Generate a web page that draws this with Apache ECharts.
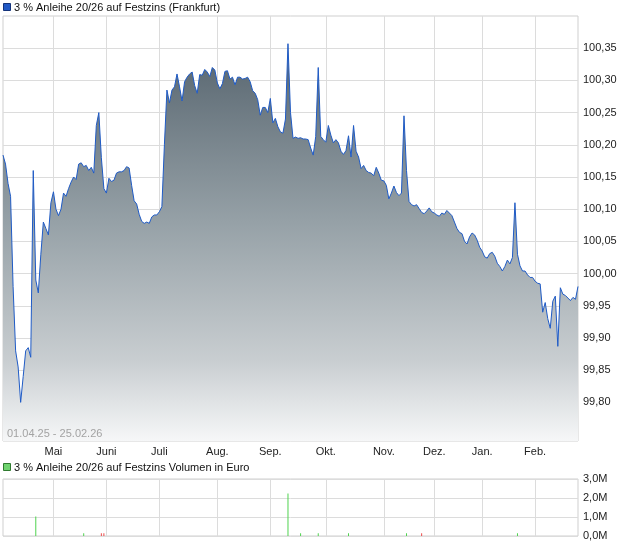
<!DOCTYPE html>
<html><head><meta charset="utf-8">
<script src="https://cdn.jsdelivr.net/npm/echarts@6/dist/echarts.min.js"></script>
<style>html,body{margin:0;padding:0;background:#fff}#c{width:620px;height:546px}</style>
</head><body><div id="c"></div>
<script>
// ---- data ----
const seriesName = '3 % Anleihe 20/26 auf Festzins (Frankfurt)';
const volumeName = '3 % Anleihe 20/26 auf Festzins Volumen in Euro';
const startDate = '2025-04-01';
const endDate = '2026-02-25';
const holidays = ['2025-04-18','2025-04-21','2025-05-01','2025-12-24','2025-12-25','2025-12-26','2025-12-31','2026-01-01'];
const monthLabels = ['Mai','Juni','Juli','Aug.','Sep.','Okt.','Nov.','Dez.','Jan.','Feb.'];
const priceTicks = [99.80,99.85,99.90,99.95,100.00,100.05,100.10,100.15,100.20,100.25,100.30,100.35];
const volumeTicks = [0, 1000000, 2000000, 3000000];

const price = [
 100.184,100.17,100.14,100.12,99.98,99.88,99.855,99.80,99.84,99.88,
 99.885,99.87,100.16,99.99,99.97,100.03,100.08,100.07,100.06,100.11,
 100.127,100.10,100.09,100.10,100.125,100.12,100.132,100.142,100.15,100.146,
 100.17,100.172,100.166,100.168,100.16,100.165,100.156,100.23,100.25,100.18,
 100.132,100.125,100.148,100.143,100.145,100.156,100.158,
 100.158,100.16,100.166,100.164,100.137,100.113,100.108,100.092,100.081,100.078,
 100.08,100.078,100.088,100.091,100.091,100.096,100.104,100.20,100.285,100.265,
 100.285,100.29,100.31,100.29,100.268,100.298,100.305,100.31,100.313,100.292,
 100.28,100.309,100.308,100.317,100.313,100.306,100.32,100.316,100.296,100.287,
 100.295,100.314,100.315,100.302,100.305,100.293,
 100.305,100.305,100.302,100.303,100.305,100.298,100.284,100.28,100.27,100.246,
 100.258,100.258,100.25,100.272,100.234,100.241,100.228,100.22,100.218,100.24,
 100.357,100.25,100.21,100.212,100.21,100.211,100.209,100.209,100.208,100.195,
 100.184,100.213,100.32,100.213,100.208,100.204,100.23,100.215,100.203,100.208,
 100.203,100.19,100.185,100.191,100.214,
 100.181,100.23,100.19,100.181,100.163,100.168,100.16,100.157,100.156,100.152,
 100.165,100.156,100.145,100.144,100.137,100.116,100.125,100.136,100.126,100.121,
 100.125,100.245,100.16,100.112,100.107,100.105,100.107,100.101,100.095,100.093,
 100.097,100.102,100.096,100.094,100.091,100.089,100.094,100.092,100.098,100.094,
 100.09,100.08,100.07,100.064,
 100.062,100.05,100.046,100.057,100.063,100.06,100.052,100.041,100.035,100.026,
 100.024,100.031,100.033,100.027,100.016,100.011,100.004,100.011,100.021,100.015,
 100.025,100.11,100.03,100.012,100.004,100.004,99.998,99.994,99.994,99.988,
 99.985,99.984,99.94,99.955,99.93,99.915,99.957,99.965,99.887,99.978,
 99.968,99.966,99.962,99.958,99.963,99.96,99.98
];

const volDates  = ['2025-04-22','2025-05-20','2025-05-29','2025-05-30','2025-09-10','2025-09-17','2025-09-26','2025-10-14','2025-11-14','2025-11-24','2026-01-22'];
const volValues = [1020000,150000,150000,150000,2240000,150000,150000,150000,150000,150000,150000];
const volUp     = [true,true,false,false,true,true,true,true,true,false,true];

// ---- trading-day calendar ----
function tradingDays(from, to, skip) {
  const out = [];
  const d = new Date(from + 'T00:00:00Z');
  const end = new Date(to + 'T00:00:00Z');
  while (d <= end) {
    const wd = d.getUTCDay();
    const s = d.toISOString().slice(0, 10);
    if (wd !== 0 && wd !== 6 && skip.indexOf(s) < 0) out.push(s);
    d.setUTCDate(d.getUTCDate() + 1);
  }
  return out;
}
const dates = tradingDays(startDate, endDate, holidays);
const monthStart = dates.map((d, i) => i > 0 && d.slice(5, 7) !== dates[i - 1].slice(5, 7));
const labelOf = {};
let mIdx = 0;
dates.forEach((d, i) => { if (monthStart[i]) labelOf[d] = monthLabels[mIdx++]; });
const fmtDate = s => s.slice(8, 10) + '.' + s.slice(5, 7) + '.' + s.slice(2, 4);

const volData = dates.map(d => {
  const k = volDates.indexOf(d);
  if (k < 0) return 0;
  return volUp[k] ? volValues[k] : { value: volValues[k], itemStyle: { color: '#ee4b4b' } };
});

// ---- chart ----
const FONT = '"Liberation Sans", Arial, sans-serif';
const GRIDC = '#dcdcdc';
const chart = echarts.init(document.getElementById('c'), null, { renderer: 'canvas' });
chart.setOption({
  animation: false,
  backgroundColor: '#fff',
  textStyle: { fontFamily: FONT },
  title: {
    text: fmtDate(dates[0]) + ' - ' + fmtDate(dates[dates.length - 1]),
    left: 7, top: 428, padding: 0,
    textStyle: { fontSize: 11, fontWeight: 'normal', color: '#a3a3a3', fontFamily: FONT }
  },
  graphic: [
    { type: 'rect', shape: { x: 3.5, y: 3.5, width: 7, height: 7 }, style: { fill: '#2159c5', stroke: '#14337a', lineWidth: 1 } },
    { type: 'text', style: { x: 14, y: 7.5, text: seriesName, font: '11px ' + FONT, fill: '#111', verticalAlign: 'middle' } },
    { type: 'rect', shape: { x: 3.5, y: 463.5, width: 7, height: 7 }, style: { fill: '#6fd36f', stroke: '#2f7a2f', lineWidth: 1 } },
    { type: 'text', style: { x: 14, y: 467.5, text: volumeName, font: '11px ' + FONT, fill: '#111', verticalAlign: 'middle' } }
  ],
  grid: [
    { left: 3, right: 42, top: 16, bottom: 105, show: true, borderColor: '#cfcfcf', borderWidth: 1, backgroundColor: '#fff' },
    { left: 3, right: 42, top: 479, bottom: 10, show: true, borderColor: '#cfcfcf', borderWidth: 1, backgroundColor: '#fff' }
  ],
  xAxis: [
    {
      type: 'category', gridIndex: 0, data: dates, boundaryGap: false,
      axisLine: { show: false }, axisTick: { show: false },
      axisLabel: { interval: i => monthStart[i], formatter: v => labelOf[v] || '', color: '#222', fontSize: 11, margin: 5, fontFamily: FONT },
      splitLine: { show: true, interval: i => monthStart[i], lineStyle: { color: GRIDC, width: 1 } }
    },
    {
      type: 'category', gridIndex: 1, data: dates, boundaryGap: false,
      axisLine: { show: false }, axisTick: { show: false }, axisLabel: { show: false },
      splitLine: { show: true, interval: i => monthStart[i], lineStyle: { color: GRIDC, width: 1 } }
    }
  ],
  yAxis: [
    {
      type: 'value', gridIndex: 0, position: 'right', min: 99.74, max: 100.40,
      axisLine: { show: false },
      axisTick: { show: false, customValues: priceTicks },
      axisLabel: { customValues: priceTicks, formatter: v => v.toFixed(2).replace('.', ','), color: '#222', fontSize: 11, margin: 5, fontFamily: FONT },
      splitLine: { show: true, lineStyle: { color: GRIDC, width: 1 } }
    },
    {
      type: 'value', gridIndex: 1, position: 'right', min: 0, max: 3000000, interval: 1000000,
      axisLine: { show: false }, axisTick: { show: false },
      axisLabel: { formatter: v => (v / 1e6).toFixed(1).replace('.', ',') + 'M', color: '#222', fontSize: 11, margin: 5, fontFamily: FONT },
      splitLine: { show: true, lineStyle: { color: GRIDC, width: 1 } }
    }
  ],
  series: [
    {
      type: 'line', name: seriesName, data: price, xAxisIndex: 0, yAxisIndex: 0,
      symbol: 'none', lineStyle: { color: '#1f5bc6', width: 1 },
      areaStyle: {
        opacity: 1,
        color: new echarts.graphic.LinearGradient(0, 0, 0, 1, [
          { offset: 0, color: '#56646e' },
          { offset: 0.45, color: '#96a1a7' },
          { offset: 0.8, color: '#c9ced1' },
          { offset: 1, color: '#f6f7f8' }
        ])
      }
    },
    {
      type: 'bar', name: volumeName, data: volData, xAxisIndex: 1, yAxisIndex: 1,
      barWidth: 1, itemStyle: { color: '#4fd34f' }
    }
  ]
});
</script>
</body></html>
